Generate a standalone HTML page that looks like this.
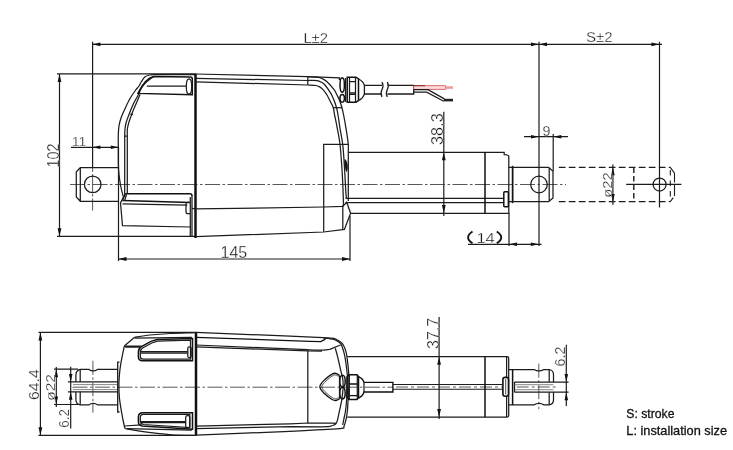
<!DOCTYPE html>
<html><head><meta charset="utf-8">
<style>
html,body{margin:0;padding:0;background:#fff;}
body{width:733px;height:450px;overflow:hidden;font-family:"Liberation Sans",sans-serif;}
svg{display:block;will-change:transform;opacity:0.999;}
.l{fill:none;stroke:#1c1c1c;stroke-width:1.25;}
.t{fill:none;stroke:#1c1c1c;stroke-width:1.2;}
.h{fill:none;stroke:#111;stroke-width:2.5;}
.m{fill:none;stroke:#111;stroke-width:1.5;}
.c{fill:none;stroke:#2e2e2e;stroke-width:0.8;stroke-dasharray:15 2.5 2.5 2.5;}
.d{fill:none;stroke:#1c1c1c;stroke-width:1.1;stroke-dasharray:6.7 3.3;}
.a{fill:#111;stroke:none;}
text{font-family:"Liberation Sans",sans-serif;fill:#141414;}
.dim{stroke:#fff;stroke-width:0.28;}
</style></head><body>
<svg width="733" height="450" viewBox="0 0 733 450">
<rect width="733" height="450" fill="#fff"/>
<!-- TOP VIEW dims -->
<path class="t" d="M92.6 41.7V168M539 41.7V246M659.5 41.7V207.5"/>
<path class="t" d="M92 44.3H539M539 44.3H662"/>
<path class="a" d="M92.4 44.3l8 -1.9v3.8zM539 44.3l-8 -1.9v3.8zM539 44.3l8 -1.9v3.8zM659.4 44.3l-8 -1.9v3.8z"/>
<path class="t" d="M57 73.9H196M57 236.3H196M59.5 73.9V236.3"/>
<path class="a" d="M59.5 73.9l-1.9 8h3.8zM59.5 236.3l-1.9 -8h3.8z"/>
<path class="t" d="M71 147.3H119"/>
<path class="a" d="M92.4 147.3l8 -1.8v3.6zM118.8 147.3l-8 -1.8v3.6z"/>
<path class="t" d="M118.5 147V261M350 216V261M118.5 259H350"/>
<path class="a" d="M118.5 259l8 -1.9v3.8zM350 259l-8 -1.9v3.8z"/>
<path class="t" d="M443.8 111.7V216"/>
<path class="a" d="M443.8 152.3l-1.9 8h3.8zM443.8 213l-1.9 -8h3.8z"/>
<path class="t" d="M524 136.7H568M553.2 134V171"/>
<path class="a" d="M539 136.7l-8 -1.8v3.6zM553.3 136.7l8 -1.8v3.6z"/>
<path class="t" d="M468 244.3H541.5M509 213V246"/>
<path class="a" d="M509 244.3l8 -1.8v3.6zM538.8 244.3l-8 -1.8v3.6z"/>
<path d="M472.5 231.5q-8.8 5.900 0 11.800M496.800 231.500q8.800 5.900 0 11.800" fill="none" stroke="#111" stroke-width="1.9"/>
<path class="t" d="M612.9 164.5V204.8"/>
<path class="a" d="M612.9 167.3l-1.8 8h3.6zM612.9 202.1l-1.8 -8h3.6z"/>
<path class="c" d="M70 184.500H566"/>
<path class="c" d="M92.600 168V211" style="stroke-dasharray:4 2 18.5 1.5 2.5 2 12"/>
<path class="t" d="M626.2 184.4H681.4"/>
<path class="l" d="M118.300 167.500H80.300L76.300 171.700V197L80.300 201.300H118.300M80.300 167.500V201.300"/>
<circle class="l" cx="92.700" cy="184.400" r="8.300"/>
<path class="h" d="M195.500 74V238"/>
<path class="l" d="M192 195.5V236.500M190.300 197V236.300"/>
<path class="l" d="M195.500 74L307.800 76.700L339.400 77.800V80"/>
<path class="l" d="M195.500 78.400L307.800 80.500"/>
<path class="l" d="M195.500 81.800L307.800 85"/>
<path class="l" d="M307.800 76.700V85"/>
<path class="l" d="M307.8 76.7C309.3 76.8 314.6 76.9 317.0 77.2C319.4 77.5 320.8 78.0 322.5 78.8C324.2 79.5 325.1 79.9 327.0 81.7C328.9 83.5 332.2 87.2 333.9 89.4C335.6 91.6 336.1 93.2 337.0 95.0C337.9 96.8 338.6 97.9 339.4 100.0C340.2 102.1 341.2 105.0 341.9 107.5C342.6 110.0 342.9 111.5 343.6 115.0C344.3 118.5 345.2 123.4 346.0 128.3C346.8 133.2 347.9 140.4 348.3 144.3C348.7 148.2 348.3 142.6 348.3 152.0C348.3 161.4 348.3 192.8 348.3 201.0"/>
<path class="l" d="M307.8 80.5C309.3 80.5 314.7 80.3 317.0 80.6C319.3 80.9 320.2 81.6 321.5 82.3C322.8 83.0 323.5 83.2 325.0 85.0C326.5 86.8 329.4 91.1 330.5 92.8C331.6 94.5 331.0 93.5 331.7 95.0C332.4 96.5 333.7 99.3 334.5 101.5C335.3 103.7 336.1 106.0 336.7 108.3C337.3 110.5 337.4 111.7 338.0 115.0C338.6 118.3 339.2 123.4 340.0 128.3C340.8 133.2 342.0 138.2 342.7 144.3C343.4 150.4 343.9 158.3 344.3 165.0C344.8 171.7 345.1 178.9 345.4 184.4C345.7 189.9 346.1 195.7 346.3 198.0"/>
<path class="l" d="M307.8 85.0C309.2 85.1 314.0 85.2 316.0 85.5C318.0 85.8 318.7 86.3 319.8 87.0C320.9 87.7 321.6 88.1 322.8 89.4C324.0 90.7 325.8 93.0 327.0 95.0C328.2 97.0 329.2 99.4 330.3 101.5C331.4 103.6 332.6 105.5 333.3 107.7C334.0 110.0 333.9 111.6 334.6 115.0C335.3 118.4 336.4 123.4 337.3 128.3C338.2 133.2 339.3 138.2 340.0 144.3C340.7 150.4 341.2 158.3 341.7 165.0C342.2 171.7 342.5 177.7 342.8 184.4C343.1 191.1 343.4 201.6 343.5 205.0"/>
<path class="l" d="M333.3 107.7H342"/>
<path d="M345 159.5C347.6 162 347.9 168 346.6 171.5C345 168 344.500 163 345 159.500Z" fill="#111" stroke="#111" stroke-width="0.8"/>
<path class="l" d="M195.5 74.6H155"/>
<path class="l" d="M155.0 74.6C154.1 74.7 151.3 74.6 149.6 75.0C147.9 75.4 146.2 75.9 144.8 77.0C143.5 78.1 142.5 79.9 141.5 81.5C140.5 83.1 139.6 85.1 138.6 86.5C137.6 87.9 137.1 88.1 135.7 90.0C134.3 91.9 132.1 94.9 130.3 98.0C128.5 101.1 126.5 105.4 125.0 108.7C123.5 112.0 122.0 115.1 121.0 118.0C120.0 120.9 119.5 123.1 119.0 126.0C118.5 128.9 118.4 131.8 118.3 135.3C118.2 138.9 118.2 141.5 118.3 147.3C118.3 153.1 118.2 163.7 118.6 170.0C119.0 176.3 119.7 180.6 120.5 185.0C121.3 189.4 122.8 194.8 123.3 196.7"/>
<path class="l" d="M153.7 76.6C152.8 77.2 150.0 78.9 148.2 80.5C146.4 82.1 144.2 84.0 142.7 86.0C141.2 88.0 140.1 91.0 139.3 92.7C138.5 94.4 138.6 94.2 137.7 96.0C136.8 97.8 135.0 100.5 133.7 103.3C132.4 106.1 130.9 109.6 129.7 112.7C128.5 115.8 127.1 119.3 126.3 122.0C125.5 124.7 125.3 126.2 125.0 128.7C124.7 131.1 124.8 133.1 124.7 136.7C124.7 140.2 124.7 140.4 124.7 150.0C124.7 159.6 124.7 186.7 124.7 194.0"/>
<path class="l" d="M140.0 94.5C139.4 96.0 137.6 100.3 136.3 103.3C135.0 106.3 133.5 109.6 132.3 112.7C131.1 115.8 129.8 119.3 129.0 122.0C128.2 124.7 127.7 126.2 127.4 128.7C127.1 131.1 127.3 133.1 127.3 136.7C127.3 140.2 127.3 140.4 127.3 150.0C127.3 159.6 127.3 186.7 127.3 194.0"/>
<path class="l" d="M130.3 114L133 114.7M124.6 136H126.9"/>
<path class="m" d="M153.700 76.600L190.3 77Q192.3 77 192.3 79V94.800L138 93.400C141.500 86 147 78 153.700 76.600Z"/>
<path class="l" d="M146.800 86H186.400"/>
<ellipse class="l" cx="189" cy="86.500" rx="2.700" ry="7.600"/>
<path class="m" d="M125.200 193.800H190Q192 193.800 192 196"/>
<path class="m" d="M122.500 200.500L190 202.500"/>
<path class="l" d="M122.500 203.900L187.300 205.200"/>
<path class="l" d="M125.200 193.900L120.500 203L122.500 225.700L190.700 227"/>
<path class="l" d="M125.200 193.900L122.500 200.500M126.500 194.500L124.500 201"/>
<path class="l" d="M190 202.300H187.500Q186 202.300 186 204V211.500Q186 213.700 187.500 213.700H190"/>
<path class="l" d="M192 208.400L195.500 208.900L323.700 207L342.800 206.400L346.700 202.200L350.600 213.300"/>
<path class="l" d="M195.500 236.700L323.700 232L344.400 229.400L350.600 213.300"/>
<path class="l" d="M342.800 205V229.400"/>
<path class="l" d="M348.300 144.400H323.700V231.700"/>
<path class="l" d="M348.300 152.300H504.200V154.500Q508.800 154.500 508.800 156.500V213.300H350.600"/>
<path class="l" d="M345.500 198.400H503.500M345.500 202.700H503.500"/>
<path class="m" d="M485 152.300V213"/>
<rect class="m" x="503.800" y="191.800" width="4.600" height="15" rx="1"/>
<path class="l" d="M548.8 167.400H512.700V201.500H548.8M548.8 167.400L553 171.2V198L548.8 201.500M549.2 167.400V201.500"/>
<path class="m" d="M512.500 165.800V203.200"/>
<path class="l" d="M508.800 167.400H512.700M508.800 201.500H512.700"/>
<circle class="l" cx="539" cy="184.500" r="8.300"/>
<path class="d" d="M558.8 167.400H670.5M558.8 201.600H670.5"/>
<path class="d" d="M633.8 167.400V201.600" style="stroke-width:1.4;stroke-dasharray:5.5 3"/>
<path class="d" d="M670.3 170V201.6" style="stroke-dasharray:5.5 5"/>
<path class="d" d="M670.3 167.400L674.500 173.1V196L670.3 201.600" style="stroke-dasharray:16.5 2 11.5 2 20"/>
<circle class="l" cx="659.600" cy="184.500" r="6.500"/>
<ellipse class="m" cx="342.200" cy="85" rx="2.200" ry="7.200"/>
<ellipse class="m" cx="342.200" cy="98.300" rx="2.200" ry="3.900"/>
<path class="l" d="M345.500 78V102"/>
<path class="m" d="M347.200 77.200H356L358.500 79V100.500L356 102.200H347.200Z"/>
<path class="l" d="M349.500 77.200V102.200M355.500 77.200V102.200M349.500 81.700H355.500M349.500 92.800H355.500M349.500 94.400H355.500"/>
<path class="l" d="M358.500 79Q363 81 364.400 85.400H382M358.500 100.500Q363 98.500 364.400 94H382M364.400 85.400V94" style="stroke-width:1.3"/>
<path class="l" d="M387.5 85.400H413.7V94H387.5" style="stroke-width:1.3"/>
<path class="l" d="M382 82q2 3.700 0 7.500t0 7.500M387.300 82q2 3.700 0 7.500t0 7.500"/>
<path d="M413.7 85.7H445.6V89.4H413.7Z" fill="#fcdcdc" stroke="#d8575a" stroke-width="0.9"/>
<path d="M413.7 85.7H425" fill="none" stroke="#7a2a2a" stroke-width="1"/>
<rect x="445.6" y="86.3" width="7.4" height="2.5" fill="#f29a9a"/>
<path class="l" d="M413.7 89.6H428L444.4 98.9M413.7 92.1H426.6L443.8 101.3"/>
<path d="M443.8 98.8H453V101.4H443.8Z" fill="#222"/>
<!-- BOTTOM VIEW -->
<path class="t" d="M38.500 332.400H196M38.500 435.300H196M40.400 332.400V435.300"/>
<path class="a" d="M40.4 332.4l-1.9 8h3.8zM40.4 435.3l-1.9 -8h3.8z"/>
<path class="t" d="M54 369.200H78M54 404.500H78M56.300 367V407"/>
<path class="a" d="M56.3 369.2l-1.8 8h3.6zM56.3 404.5l-1.8 -8h3.6z"/>
<path class="t" d="M67.900 381.900H117.700M67.900 391.800H117.700M70.700 366.700V428.500"/>
<path class="a" d="M70.7 381.9l-1.8 -8h3.6zM70.7 391.8l-1.8 8h3.6z"/>
<path class="t" d="M439.100 317V419"/>
<path class="a" d="M439.1 356.7l-1.9 8h3.8zM439.1 417.1l-1.9 -8h3.8z"/>
<path class="t" d="M514.500 382.100H568.600M514.500 392.200H568.600M566.300 344.800V406.100"/>
<path class="a" d="M566.3 382.1l-1.8 -8h3.6zM566.3 392.2l-1.8 8h3.6z"/>
<path class="c" d="M72.500 387.200H393"/>
<path class="c" d="M92.900 360.800V412.700" style="stroke-dasharray:14 2.500 2.500 2.500"/>
<path class="c" d="M538.800 363.700V409.200" style="stroke-dasharray:14 2.500 2.500 2.500"/>
<path class="l" d="M118 369.400H97.500Q93.200 372.300 88.900 369.400H80.200Q75.900 370.500 75.900 375.200V381.700M75.900 391.800V399.700Q75.900 403.800 80.200 404.800H88.900Q93.200 402 97.500 404.800H118"/>
<path class="l" d="M80.200 369.400V381.700M80.200 391.800V404.800"/>
<path class="t" d="M73 384.600H117.700M73 389.600H117.700" style="stroke:#666;stroke-width:0.8"/>
<path class="l" d="M119.500 362.200H117.700V412H119.500" style="stroke-width:1.3"/>
<path class="h" d="M196 332.400V435.500"/>
<path class="l" d="M196.0 332.6C191.7 332.8 177.7 333.1 170.0 333.5C162.3 333.9 155.9 334.4 150.0 335.0C144.1 335.6 137.2 336.9 134.6 337.3"/>
<path class="l" d="M134.6 337.3L124.3 346.1"/>
<path class="l" d="M124.3 346.1C124.1 347.1 123.6 349.5 123.0 352.3C122.4 355.1 121.5 359.6 120.9 363.2C120.3 366.8 119.8 370.4 119.5 374.0C119.2 377.6 118.9 380.9 118.9 385.0C118.9 389.1 119.0 394.1 119.5 398.6C120.0 403.2 120.8 407.7 121.6 412.3C122.4 416.9 123.7 423.3 124.3 426.0C124.9 428.7 125.1 428.2 125.3 428.7"/>
<path class="l" d="M125.3 428.7C127.3 429.0 133.0 430.0 137.3 430.7C141.6 431.4 145.2 432.0 150.9 432.7C156.6 433.4 163.9 434.3 171.4 434.8C178.9 435.3 191.9 435.4 196.0 435.5"/>
<path class="l" d="M134.6 338.1L191.9 337.3"/>
<path class="l" d="M124.3 346.1H141.400M125.2 347.2H140"/>
<path class="l" d="M124.3 426L141.4 424.8M127 428.7L191.9 430.2"/>
<path class="m" d="M192.500 338.600L157 339.600L150.900 341.400L141.400 346.600Q138.400 348.500 138.400 352V357Q138.400 360.700 142.500 360.700H192.500Z"/>
<path class="l" d="M190.5 340.200L157.500 341.200L151.800 343L142.600 348Q140.300 349.600 140.300 352.300V356.500Q140.300 359.100 143.300 359.100H190.500Z"/>
<path class="l" d="M140.700 351.600H187.800M141 353H187.800"/>
<rect class="l" x="187.800" y="346.800" width="3.400" height="10.900" rx="1.500"/>
<path class="m" d="M192.500 412.700H143Q138.400 412.700 138.400 417V421.500Q138.400 425.300 142 426L192.500 429.300Z"/>
<path class="l" d="M189.800 414.300H143.500Q140.300 414.300 140.300 417.500V421.500Q140.500 424 143.500 424.500L189.800 427.700Z"/>
<path class="l" d="M140.700 421.600H185.700M141 422.700H185.700"/>
<rect class="l" x="185.700" y="415.700" width="4.100" height="12.300" rx="1.800"/>
<path class="l" d="M196 332.4L290 336.2L323.3 337.7L334 338.3C334.9 338.8 337.8 339.9 339.3 341.0C340.9 342.1 342.2 343.2 343.3 345.0C344.4 346.8 345.3 349.2 346.0 351.7C346.7 354.1 346.9 356.1 347.3 359.7C347.8 363.2 348.4 368.4 348.7 373.0C349.0 377.6 349.0 382.8 348.9 387.0C348.8 391.2 348.5 394.2 348.2 398.3C347.9 402.4 347.7 408.1 347.3 411.7C346.9 415.3 346.6 417.3 346.0 419.7C345.4 422.1 344.7 424.9 344.0 426.3C343.3 427.7 345.4 427.7 342.0 428.3C338.6 428.9 332.0 429.2 323.3 429.7C314.6 430.2 311.2 430.4 290.0 431.3C268.8 432.2 211.7 434.5 196.0 435.1"/>
<path class="m" d="M196 337.300L310 341.400L320.700 341.700L325.5 339.2" style="stroke-width:1.3"/>
<path class="l" d="M323.3 337.9C325.1 338.1 331.2 338.5 334.0 339.4C336.8 340.2 338.7 341.9 340.0 343.0C341.3 344.1 341.2 344.2 342.0 346.3C342.8 348.4 343.9 351.9 344.7 355.7C345.5 359.5 346.2 365.2 346.7 369.0C347.2 372.8 347.4 375.3 347.6 378.3C347.8 381.3 347.9 383.7 347.8 387.0C347.7 390.3 347.2 394.3 346.8 398.3C346.4 402.3 346.0 407.7 345.5 411.0C345.0 414.3 344.5 416.0 344.0 418.3C343.5 420.6 342.9 423.9 342.7 425.0"/>
<path class="l" d="M196 345L307.700 349.700C310.3 349.8 319.8 350.2 323.3 350.2C326.9 350.2 327.2 349.9 329.0 349.5C330.8 349.1 332.1 348.4 334.0 347.7C335.9 346.9 339.6 345.4 340.7 345.0"/>
<path class="l" d="M196 346.800L307.700 350.900L322 351"/>
<path class="l" d="M335.3 348.3C335.8 350.0 337.1 354.6 338.0 358.3C338.9 362.0 339.9 367.0 340.7 370.3C341.5 373.6 342.3 375.5 342.7 378.3C343.1 381.1 343.2 383.7 343.1 387.0C343.0 390.3 342.6 394.2 342.0 398.3C341.4 402.4 340.2 407.7 339.3 411.7C338.4 415.7 337.7 420.4 336.7 422.3C335.7 424.2 334.6 423.1 333.5 423.2C332.4 423.3 330.6 423.0 330.0 423.0L308.700 423L290 423.800L196 426.100"/>
<path class="l" d="M196 428.600L290 426.600L323.300 426.800C324.4 426.7 328.2 426.6 330.0 426.3C331.8 426.0 332.9 425.5 334.0 425.0C335.1 424.5 336.1 423.5 336.5 423.2"/>
<path class="l" d="M307.800 350.300V423"/>
<path class="m" d="M339.5 375.4C338.9 375.0 337.0 373.5 335.8 373.3C334.6 373.1 334.0 373.0 332.1 374.1C330.2 375.2 326.8 377.6 324.7 379.7C322.6 381.8 319.8 384.4 319.8 386.8C319.8 389.2 322.6 391.7 324.7 393.8C326.8 395.9 330.2 398.4 332.1 399.5C334.0 400.6 334.6 400.6 335.8 400.5C337.0 400.4 338.9 399.1 339.5 398.8" style="stroke-width:1.3"/>
<path class="l" d="M338.5 376.6C338.1 376.3 336.8 375.1 335.8 375.0C334.8 374.9 334.2 374.8 332.6 375.8C331.0 376.8 327.8 379.2 326.0 381.0C324.2 382.8 321.8 384.9 321.8 386.8C321.8 388.7 324.2 390.8 326.0 392.6C327.8 394.4 331.0 396.8 332.6 397.8C334.2 398.8 334.8 398.9 335.8 398.8C336.8 398.8 338.1 397.7 338.5 397.5" style="stroke-width:0.8"/>
<ellipse class="m" cx="342.500" cy="381.200" rx="2.700" ry="5.900"/>
<ellipse class="m" cx="342.500" cy="393.100" rx="2.700" ry="5.900"/>
<path class="l" d="M339.5 375.4V398.8"/>
<path class="m" d="M346.9 377L349 374.700H357L358.500 376.600V397.800L357 399.600H349L346.900 397.400Z"/>
<path class="l" d="M349.300 374.700V399.600M357.300 374.700V399.600"/>
<path class="m" d="M349.300 384H357.300M349.300 395.600H357.300" style="stroke-width:1.3"/>
<path class="m" d="M358.500 376.600Q363 378.500 364 382.400H392.900V392H364Q363 396 358.500 398.100" style="stroke-width:1.4"/>
<path class="l" d="M364 382.400V392"/>
<path class="l" d="M392.900 384.400H503.500M392.900 389.200H503.500" style="stroke-width:1.05"/>
<path class="c" d="M396 387H502M516.700 387H555.600" style="stroke-dasharray:12 3 3 3"/>
<path class="l" d="M347.300 356.700H507.200Q508.700 356.700 508.700 358.200V415.500Q508.700 417 507.200 417H347.300M506.600 357V417"/>
<path class="m" d="M485 357V417"/>
<rect x="502.900" y="377.400" width="5.600" height="18.800" rx="2.200" fill="#fff" stroke="#111" stroke-width="1.600"/>
<path class="l" d="M505.700 379V394.500" style="stroke-width:0.8"/>
<path class="l" d="M508.700 369.500H534Q539 372.400 544 369.500H549.200Q553.500 370.500 553.500 374.500V382.100M553.500 392.200V400Q553.500 404 549.200 404.900H544Q539 402 534 404.900H508.700"/>
<path class="m" d="M512.600 369.500V404.900"/>
<path class="l" d="M549.200 369.500V382.100M549.200 392.200V404.900M514.500 382.100V392.200"/>
<path class="t" d="M514.500 384.700H553.500M514.500 389.700H553.500" style="stroke:#666;stroke-width:0.8"/>
<text class="dim" x="303.4" y="42.5" font-size="14.0" textLength="24.6" lengthAdjust="spacingAndGlyphs">L±2</text>
<text class="dim" x="585.9" y="42.2" font-size="14.0" textLength="26.7" lengthAdjust="spacingAndGlyphs">S±2</text>
<text class="dim" transform="translate(58.8,167.4) rotate(-90)" font-size="15.9" textLength="24.0" lengthAdjust="spacingAndGlyphs">102</text>
<text class="dim" x="71.7" y="145.9" font-size="12.8" textLength="14.7" lengthAdjust="spacingAndGlyphs">11</text>
<text class="dim" x="220.5" y="258.2" font-size="15.8" textLength="26.8" lengthAdjust="spacingAndGlyphs">145</text>
<text class="dim" transform="translate(443.4,145.0) rotate(-90)" font-size="16.2" textLength="31.7" lengthAdjust="spacingAndGlyphs">38.3</text>
<text class="dim" x="542.4" y="135.9" font-size="14.4" textLength="8.0" lengthAdjust="spacingAndGlyphs">9</text>
<text class="dim" x="476.4" y="242.6" font-size="14.2" textLength="18.4" lengthAdjust="spacingAndGlyphs">14</text>
<text class="dim" transform="translate(611.6,197.8) rotate(-90)" font-size="13.1" textLength="25.5" lengthAdjust="spacingAndGlyphs">ø22</text>
<text class="dim" transform="translate(39.2,400.0) rotate(-90)" font-size="14.7" textLength="30.8" lengthAdjust="spacingAndGlyphs">64.4</text>
<text class="dim" transform="translate(54.6,400.8) rotate(-90)" font-size="13.0" textLength="26.6" lengthAdjust="spacingAndGlyphs">ø22</text>
<text class="dim" transform="translate(68.9,427.7) rotate(-90)" font-size="14.0" textLength="18.5" lengthAdjust="spacingAndGlyphs">6.2</text>
<text class="dim" transform="translate(438.7,349.0) rotate(-90)" font-size="15.8" textLength="31.3" lengthAdjust="spacingAndGlyphs">37.7</text>
<text class="dim" transform="translate(565.4,366.6) rotate(-90)" font-size="14.4" textLength="20.0" lengthAdjust="spacingAndGlyphs">6.2</text>
<text x="626.300" y="417.600" font-size="13.3" textLength="48.2" lengthAdjust="spacingAndGlyphs" style="fill:#111;stroke:#111;stroke-width:0.3">S: stroke</text>
<text x="626.300" y="435.400" font-size="13.3" textLength="100.700" lengthAdjust="spacingAndGlyphs" style="fill:#111;stroke:#111;stroke-width:0.3">L: installation size</text>
</svg>
</body></html>
